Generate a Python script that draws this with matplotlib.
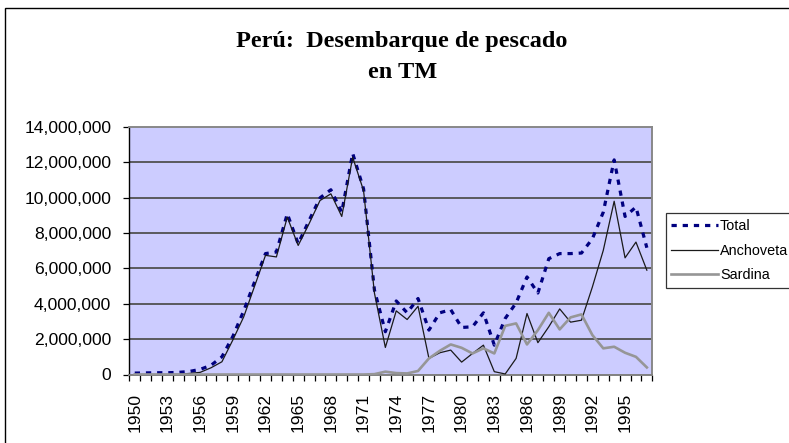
import matplotlib
matplotlib.use('Agg')
import matplotlib.pyplot as plt
from matplotlib.patches import Rectangle
from matplotlib.ticker import FuncFormatter, FixedLocator
import numpy as np

# ---------------- data (millions of tonnes) ----------------
years = list(range(1950, 1998))
total = [0.08, 0.09, 0.10, 0.10, 0.12, 0.17, 0.29, 0.52, 1.00, 2.15,
         3.60, 5.24, 6.84, 6.93, 9.09, 7.40, 8.71, 9.99, 10.45, 9.18,
         12.51, 10.50, 4.77, 2.42, 4.16, 3.49, 4.30, 2.51, 3.49, 3.67,
         2.66, 2.70, 3.49, 1.66, 3.17, 4.05, 5.52, 4.61, 6.55, 6.84,
         6.84, 6.87, 7.68, 9.18, 12.14, 8.94, 9.47, 7.17]
anchoveta = [0.0, 0.0, 0.0, 0.0, 0.01, 0.06, 0.12, 0.38, 0.72, 1.95,
             3.26, 5.00, 6.74, 6.65, 8.90, 7.30, 8.53, 9.84, 10.22, 8.94,
             12.29, 10.40, 4.60, 1.53, 3.60, 3.11, 3.86, 0.91, 1.23, 1.38,
             0.70, 1.19, 1.66, 0.16, 0.03, 0.91, 3.45, 1.80, 2.70, 3.71,
             2.96, 3.07, 4.95, 7.02, 9.80, 6.60, 7.49, 5.90]
sardina = [0.0] * 22 + [0.02, 0.16, 0.08, 0.06, 0.20, 0.91, 1.34, 1.70,
                        1.51, 1.19, 1.48, 1.19, 2.75, 2.89, 1.70, 2.51,
                        3.49, 2.55, 3.23, 3.40, 2.23, 1.48, 1.57, 1.23,
                        1.00, 0.40]
tick_years = years[::3]
series_names = ["Total", "Anchoveta", "Sardina"]
title_line1 = "Perú:  Desembarque de pescado"
title_line2 = "en TM"

# ---------------- figure ----------------
W, H = 789, 443
fig = plt.figure(figsize=(W / 100, H / 100), dpi=100)
fig.patch.set_facecolor('white')

def fx(px):
    return px / W

def fy(py):
    return 1 - py / H

left, right, top, bottom = 129.3, 652.3, 127.0, 374.5
ax = fig.add_axes([fx(left), fy(bottom), fx(right) - fx(left), fy(top) - fy(bottom)])
ax.set_facecolor('#CCCCFF')

x = np.arange(len(years))
scale = 1e6
t_vals = np.array(total) * scale
a_vals = np.array(anchoveta) * scale
s_vals = np.array(sardina) * scale

l_tot, = ax.plot(x, t_vals, color='#000080', lw=2.3, dashes=(1.65, 1.85),
                 dash_capstyle='butt', solid_capstyle='butt', zorder=3,
                 label=series_names[0])
l_anc, = ax.plot(x, a_vals, color='#1a1a1a', lw=0.9, zorder=4,
                 label=series_names[1])
l_sar, = ax.plot(x, s_vals, color='#969696', lw=1.9, zorder=5,
                 label=series_names[2])

ax.set_xlim(-0.5, len(years) - 0.5)
ax.set_ylim(0, 14e6)

# gridlines
yt = np.arange(0, 14e6 + 1, 2e6)
ax.set_yticks(yt)
ax.yaxis.set_major_formatter(FuncFormatter(lambda v, p: f"{v:,.0f}"))
for v in yt[1:-1]:
    ax.axhline(v, color='#505050', lw=1.3, zorder=1)

# x ticks: labels at category centres, tick marks at boundaries
tick_idx = [years.index(y) for y in tick_years]
ax.xaxis.set_major_locator(FixedLocator(tick_idx))
ax.set_xticklabels([str(y) for y in tick_years], rotation=90)
ax.xaxis.set_minor_locator(FixedLocator(np.arange(-0.5, len(years), 1.0)))
ax.tick_params(axis='x', which='major', length=0, pad=13)
ax.tick_params(axis='x', which='minor', length=4, width=0.9, color='black', direction='out')
ax.tick_params(axis='y', length=4, width=0.9, color='black', direction='out', pad=9)

for lab in ax.get_xticklabels() + ax.get_yticklabels():
    lab.set_fontfamily('Liberation Sans')
    lab.set_fontsize(12.6)

for side in ['top', 'right']:
    ax.spines[side].set_color('#888888')
    ax.spines[side].set_linewidth(1.4)
ax.spines['left'].set_color('black')
ax.spines['left'].set_linewidth(1.0)
ax.spines['bottom'].set_color('#808080')
ax.spines['bottom'].set_linewidth(1.4)

# title
fig.text(fx(401.5), fy(42), title_line1, ha='center', va='center',
         fontfamily='Liberation Serif', fontweight='bold', fontsize=17.5)
fig.text(fx(403), fy(72), title_line2, ha='center', va='center',
         fontfamily='Liberation Serif', fontweight='bold', fontsize=17.5)

# legend
leg = fig.legend(handles=[l_tot, l_anc, l_sar], loc='upper left',
                 bbox_to_anchor=(fx(665.7), fy(213)), bbox_transform=fig.transFigure,
                 borderaxespad=0, frameon=True, fancybox=False,
                 prop={'family': 'Liberation Sans', 'size': 10.4},
                 handlelength=3.2, handletextpad=0.15, labelspacing=0.75,
                 borderpad=0.4)
leg.get_frame().set_edgecolor('black')
leg.get_frame().set_linewidth(0.9)

# outer chart border (left and top edges visible)
fig.patches.append(Rectangle((fx(5), -0.1), 1.2, fy(8) + 0.1, transform=fig.transFigure,
                             fill=False, edgecolor='black', lw=1.0))

fig.savefig('out.png', dpi=100)
